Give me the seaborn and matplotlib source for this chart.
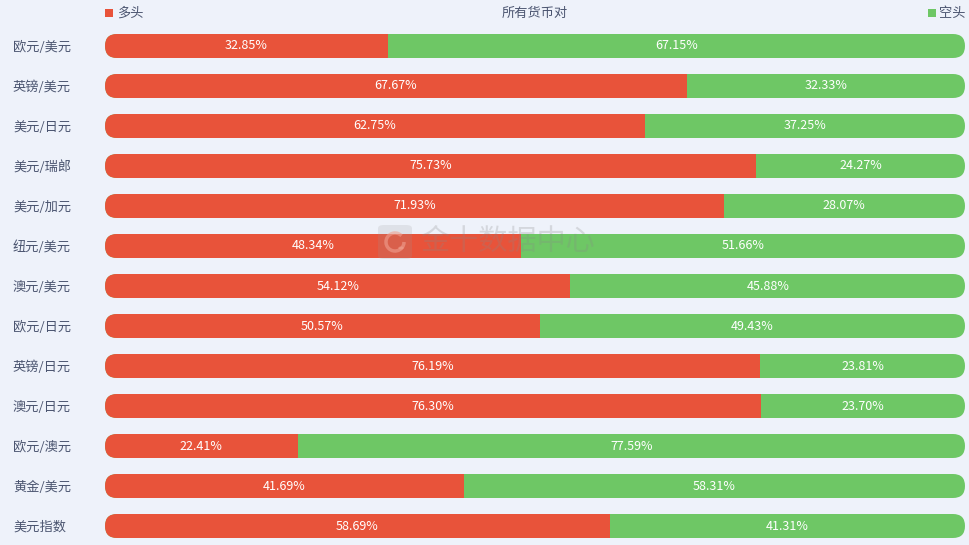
import matplotlib.pyplot as plt
import seaborn as sns
from matplotlib.patches import FancyBboxPatch, Rectangle, Circle, Arc

pairs = ["欧元/美元", "英镑/美元", "美元/日元", "美元/瑞郎", "美元/加元", "纽元/美元", "澳元/美元",
         "欧元/日元", "英镑/日元", "澳元/日元", "欧元/澳元", "黄金/美元", "美元指数"]
long_pct = [32.85, 67.67, 62.75, 75.73, 71.93, 48.34, 54.12, 50.57, 76.19, 76.30, 22.41, 41.69, 58.69]
short_pct = [67.15, 32.33, 37.25, 24.27, 28.07, 51.66, 45.88, 49.43, 23.81, 23.70, 77.59, 58.31, 41.31]

RED = "#e8533a"
GREEN = "#6ec765"
BG = "#eef2fa"
TXT = "#4b5570"

sns.set_style("white")
plt.rcParams["font.family"] = ["Noto Sans CJK SC", "DejaVu Sans"]

fig = plt.figure(figsize=(9.7, 5.45), dpi=100, facecolor=BG)
ax = fig.add_axes([105 / 970, -1 / 545, 860 / 970, 520 / 545])
ax.set_facecolor(BG)

total = [l + s for l, s in zip(long_pct, short_pct)]
sns.barplot(x=total, y=pairs, color=GREEN, width=0.6, orient="h", ax=ax, saturation=1)
sns.barplot(x=long_pct, y=pairs, color=RED, width=0.6, orient="h", ax=ax, saturation=1)

# swap the plain bars for rounded ones
bars = list(ax.patches)
n = len(pairs)
rad_x = 12 / 8.6
aspect = (12 / 40) / rad_x
for i, p in enumerate(bars):
    x0, y0, w, h = p.get_x(), p.get_y(), p.get_width(), p.get_height()
    color = GREEN if i < n else RED
    p.remove()
    rb = FancyBboxPatch((0, y0), total[i % n], h,
                        boxstyle=f"round,pad=0,rounding_size={rad_x}",
                        mutation_aspect=aspect, fc=color, ec="none", zorder=2 if i < n else 3)
    ax.add_patch(rb)
    if i >= n:
        clip = Rectangle((x0, y0), w, h, transform=ax.transData)
        rb.set_clip_path(clip)

for i, (l, s) in enumerate(zip(long_pct, short_pct)):
    ax.text(l / 2, i, f"{l:.2f}%", ha="center", va="center", color="white", fontsize=9, zorder=5)
    ax.text(l + s / 2, i, f"{s:.2f}%", ha="center", va="center", color="white", fontsize=9, zorder=5)

ax.set_xlim(0, 100)
ax.set_ylim(n - 0.5, -0.5)
ax.set_xlabel("")
ax.set_ylabel("")
ax.set_xticks([])
# left-aligned labels starting ~13px from the figure edge
ax.tick_params(axis="y", length=0, pad=(105 - 13) * 0.72, labelsize=9.5, labelcolor=TXT)
for lbl in ax.get_yticklabels():
    lbl.set_horizontalalignment("left")
sns.despine(ax=ax, left=True, bottom=True)

# legend / title row
fig.text(535 / 970, 1 - 13 / 545, "所有货币对", ha="center", va="center", fontsize=9.5, color=TXT)
fig.patches.append(Rectangle((105 / 970, 1 - 17 / 545), 8 / 970, 8 / 545, transform=fig.transFigure,
                             fc=RED, ec="none"))
fig.text(117 / 970, 1 - 13 / 545, "多头", ha="left", va="center", fontsize=9.5, color=TXT)
fig.patches.append(Rectangle((928 / 970, 1 - 17 / 545), 8 / 970, 8 / 545, transform=fig.transFigure,
                             fc=GREEN, ec="none"))
fig.text(939 / 970, 1 - 13 / 545, "空头", ha="left", va="center", fontsize=9.5, color=TXT)

# watermark
fig.text(420 / 970, 1 - 242 / 545, "金十数据中心", ha="left", va="center", fontsize=21,
         color="#888888", alpha=0.25, zorder=10)
fig.patches.append(FancyBboxPatch((378 / 970, 1 - 259 / 545), 34 / 970, 34 / 545,
                                  boxstyle="round,pad=0,rounding_size=0.006",
                                  transform=fig.transFigure, fc="#999999", ec="none", alpha=0.18, zorder=10))
fig.patches.append(Arc((395 / 970, 1 - 242 / 545), 18 / 970, 18 / 545, theta1=60, theta2=360,
                       transform=fig.transFigure, color="#f0a090", lw=2.5, alpha=0.6, zorder=11))
fig.patches.append(Circle((401 / 970, 1 - 248 / 545), 0.0028, transform=fig.transFigure,
                          fc="#f0a090", ec="none", alpha=0.6, zorder=11))

fig.savefig("out.png", dpi=100, facecolor=BG)
